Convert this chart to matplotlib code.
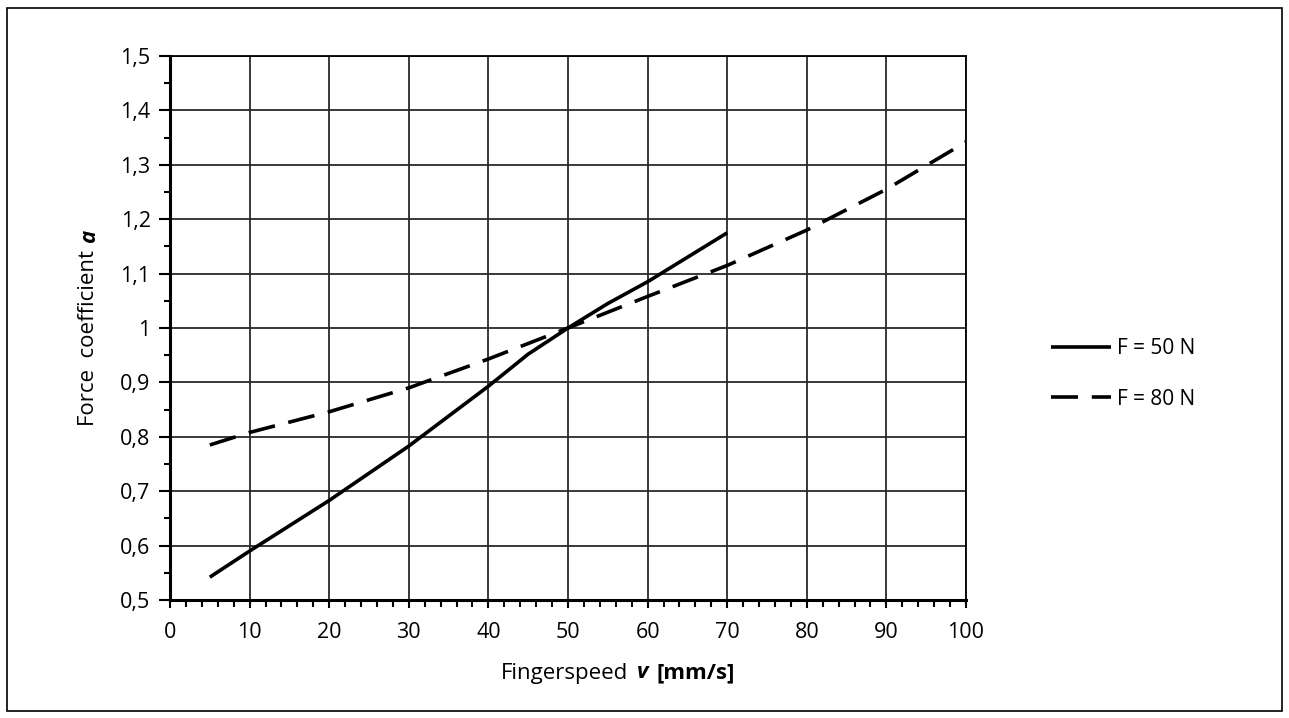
import matplotlib.pyplot as plt
from matplotlib.patches import Rectangle
from matplotlib.offsetbox import TextArea, HPacker, AnchoredOffsetbox
from matplotlib.ticker import MultipleLocator, FuncFormatter

plt.rcParams["font.family"] = ["Open Sans", "DejaVu Sans"]

# ---------- data ----------
speed_50 = [5, 10, 20, 30, 40, 45, 50, 55, 60, 65, 70]
coef_50 = [0.542, 0.590, 0.683, 0.783, 0.893, 0.952, 1.000, 1.045, 1.085, 1.130, 1.175]

speed_80 = [5, 10, 20, 30, 40, 50, 60, 70, 80, 90, 100]
coef_80 = [0.785, 0.808, 0.846, 0.890, 0.943, 1.000, 1.058, 1.115, 1.180, 1.255, 1.342]

labels = ["F = 50 N", "F = 80 N"]

fig = plt.figure(figsize=(12.89, 7.18), dpi=100)
ax = fig.add_axes([170 / 1289, 1 - 600 / 718, (966 - 170) / 1289, (600 - 56) / 718])

# frame around the whole figure
fig.patches.append(Rectangle((7 / 1289, 7 / 718), 1275 / 1289, 703 / 718,
                             transform=fig.transFigure, fill=False,
                             edgecolor="black", linewidth=1.2))

l1, = ax.plot(speed_50, coef_50, color="black", lw=2.6, solid_capstyle="butt")
l2, = ax.plot(speed_80, coef_80, color="black", lw=2.6, dashes=(7.5, 3.8))

ax.set_xlim(0, 100)
ax.set_ylim(0.5, 1.5)
ax.xaxis.set_major_locator(MultipleLocator(10))
ax.xaxis.set_minor_locator(MultipleLocator(2))
ax.yaxis.set_major_locator(MultipleLocator(0.1))
ax.yaxis.set_minor_locator(MultipleLocator(0.05))

def comma(v, pos):
    s = f"{v:.1f}".replace(".", ",")
    return "1" if s == "1,0" else s

ax.yaxis.set_major_formatter(FuncFormatter(comma))
ax.grid(True, which="major", color="#2a2a2a", lw=1.3)
for sp in ax.spines.values():
    sp.set_color("black")
    sp.set_linewidth(1.3)
ax.spines["left"].set_linewidth(2.2)
ax.spines["bottom"].set_linewidth(2.2)

ax.tick_params(axis="x", which="major", direction="out", length=6, width=1.5,
               labelsize=15.5, pad=10, color="black")
ax.tick_params(axis="x", which="minor", direction="out", length=5, width=1.5)
ax.tick_params(axis="y", which="major", direction="out", length=8, width=1.5,
               labelsize=15.5, pad=6)
ax.tick_params(axis="y", which="minor", direction="out", length=4, width=1.5)

# x label with bold italic v
fs = 16
parts = [TextArea("Fingerspeed", textprops=dict(fontsize=fs)),
         TextArea("v", textprops=dict(fontsize=fs, fontweight="bold", fontstyle="italic")),
         TextArea("[mm/s]", textprops=dict(fontsize=fs, fontweight="bold"))]
box = HPacker(children=parts, align="baseline", pad=0, sep=6)
anch = AnchoredOffsetbox(loc="center", child=box, frameon=False,
                         bbox_to_anchor=(618 / 1289, 1 - 673 / 718),
                         bbox_transform=fig.transFigure, borderpad=0)
fig.add_artist(anch)

# y label with bold italic a
fig.text(88 / 1289, 1 - 338 / 718, "Force  coefficient", rotation=90,
         ha="center", va="center", fontsize=fs)
fig.text(90 / 1289, 1 - 236 / 718, "a", rotation=90, ha="center", va="center",
         fontsize=fs, fontweight="bold", fontstyle="italic")

fig.legend([l1, l2], labels, loc="center left",
           bbox_to_anchor=(1032 / 1289, 1 - 374 / 718), frameon=False,
           fontsize=15, handlelength=2.9, handletextpad=0.3, labelspacing=1.4)

fig.savefig("out.png", dpi=100)
